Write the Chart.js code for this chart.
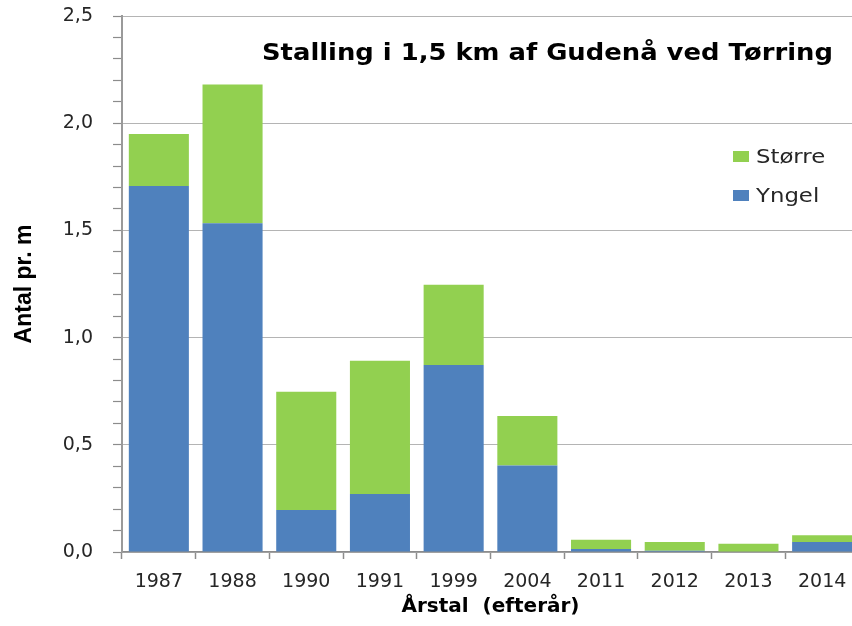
<!DOCTYPE html>
<html>
<head>
<meta charset="utf-8">
<script src="https://cdn.jsdelivr.net/npm/chart.js@4/dist/chart.umd.min.js"></script>
<style>
  html, body { margin: 0; padding: 0; background: #ffffff; overflow: hidden; width: 852px; height: 626px; }
  #wrap { width: 860px; height: 626px; }
</style>
</head>
<body>
<div id="wrap"><canvas id="c" width="860" height="626"></canvas></div>
<script>
// ---- data ----
const categories = ['1987', '1988', '1990', '1991', '1999', '2004', '2011', '2012', '2013', '2014'];
const yngel  = [1.707, 1.533, 0.196, 0.270, 0.872, 0.403, 0.014, 0.006, 0.002, 0.047];
const storre = [0.243, 0.647, 0.552, 0.622, 0.375, 0.231, 0.043, 0.041, 0.036, 0.031];
const seriesNames = ['Yngel', 'Større'];
const chartTitle = 'Stalling i 1,5 km af Gudenå ved Tørring';
const xTitle = 'Årstal  (efterår)';
const yTitle = 'Antal pr. m';
const yMin = 0, yMax = 2.5, yMajor = 0.5, yMinor = 0.1;

const BLUE = '#4F81BD';
const GREEN = '#92D050';

const isMajor = v => Math.abs(v / yMajor - Math.round(v / yMajor)) < 1e-6;

const overlayPlugin = {
  id: 'overlay',
  afterDraw(chart) {
    const ctx = chart.ctx;
    ctx.save();
    // title
    ctx.font = 'bold 23px "DejaVu Sans"';
    ctx.fillStyle = '#000000';
    ctx.textBaseline = 'alphabetic';
    ctx.textAlign = 'left';
    const w = ctx.measureText(chartTitle).width;
    const target = 571;
    ctx.save();
    ctx.translate(262, 60);
    ctx.scale(target / w, 1);
    ctx.fillText(chartTitle, 0, 0);
    ctx.restore();

    // legend (Større on top, Yngel below)
    const items = [
      { label: chart.data.datasets[1].label, color: chart.data.datasets[1].backgroundColor, y: 157 },
      { label: chart.data.datasets[0].label, color: chart.data.datasets[0].backgroundColor, y: 196 }
    ];
    ctx.font = '19px "DejaVu Sans"';
    ctx.textBaseline = 'middle';
    items.forEach(it => {
      ctx.fillStyle = it.color;
      ctx.fillRect(733, it.y - 6, 16, 11);
      ctx.fillStyle = '#262626';
      ctx.save();
      ctx.translate(756, it.y);
      ctx.scale(1.2, 1);
      ctx.fillText(it.label, 0, 1);
      ctx.restore();
    });
    ctx.restore();
  }
};

new Chart(document.getElementById('c'), {
  type: 'bar',
  data: {
    labels: categories,
    datasets: [
      { label: seriesNames[0], data: yngel, backgroundColor: BLUE, borderWidth: 0 },
      { label: seriesNames[1], data: storre, backgroundColor: GREEN, borderWidth: 0 }
    ]
  },
  options: {
    responsive: false,
    animation: false,
    devicePixelRatio: 1,
    layout: { padding: { top: 16, right: 1, left: 0, bottom: 0 } },
    plugins: {
      legend: { display: false },
      title: { display: false },
      tooltip: { enabled: false }
    },
    datasets: { bar: { barPercentage: 0.815, categoryPercentage: 1.0 } },
    scales: {
      x: {
        stacked: true,
        offset: true,
        grid: {
          display: true,
          offset: true,
          drawOnChartArea: false,
          drawTicks: true,
          tickLength: 7,
          tickColor: '#8c8c8c',
          tickWidth: 1.5
        },
        border: { display: true, color: '#8c8c8c', width: 1.5 },
        ticks: {
          font: { family: '"DejaVu Sans"', size: 19 },
          color: '#262626',
          padding: 12,
          maxRotation: 0,
          autoSkip: false
        },
        title: {
          display: true,
          text: xTitle,
          font: { family: '"DejaVu Sans"', size: 20, weight: 'bold' },
          color: '#000000',
          padding: { top: 7, bottom: 7 }
        },
        afterFit(scale) { scale.height = 74; scale.paddingLeft = 0; scale.paddingRight = 0; }
      },
      y: {
        stacked: true,
        min: yMin,
        max: yMax,
        grid: {
          display: true,
          color: ctx => (ctx.tick && isMajor(ctx.tick.value)) ? '#b4b4b4' : 'rgba(0,0,0,0)',
          lineWidth: 1,
          drawTicks: true,
          tickLength: 9,
          tickColor: '#8c8c8c',
          tickWidth: 1.2
        },
        border: { display: true, color: '#9a9a9a', width: 2 },
        ticks: {
          stepSize: yMinor,
          autoSkip: false,
          font: { family: '"DejaVu Sans"', size: 19 },
          color: '#262626',
          padding: 20,
          callback: v => isMajor(v) ? v.toFixed(1).replace('.', ',') : ''
        },
        title: {
          display: true,
          text: yTitle,
          font: { family: '"Liberation Sans Narrow", "Liberation Sans", sans-serif', size: 23, weight: 'bold' },
          color: '#000000',
          padding: { top: 11, bottom: 4 }
        },
        afterFit(scale) { scale.width = 122; scale.paddingTop = 0; scale.paddingBottom = 0; }
      }
    }
  },
  plugins: [overlayPlugin]
});
</script>
</body>
</html>
